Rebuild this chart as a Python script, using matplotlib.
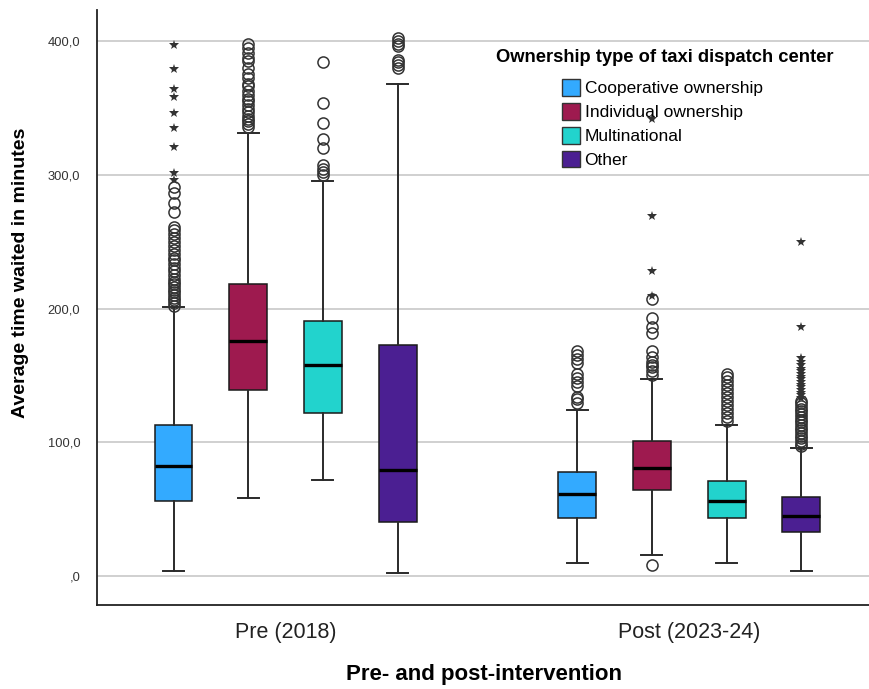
import matplotlib.pyplot as plt
from matplotlib.patches import Patch
from matplotlib.ticker import FuncFormatter

plt.rcParams['font.family'] = ['Liberation Sans', 'DejaVu Sans']

groups = ["Pre (2018)", "Post (2023-24)"]
types = ["Cooperative ownership", "Individual ownership", "Multinational", "Other"]
colors = ["#33aaff", "#9e1a4f", "#22d3cd", "#4b1f92"]

# box stats per group (Pre, Post), one value per ownership type
q1 = [[56, 139, 122, 40], [43, 64, 43, 33]]
med = [[82, 176, 158, 79], [61, 81, 56, 45]]
q3 = [[113, 218, 191, 173], [78, 101, 71, 59]]
wlo = [[4, 58, 72, 2], [10, 16, 10, 4]]
whi = [[201, 331, 295, 368], [124, 147, 113, 96]]

# outliers (circles) and extremes (stars)
circles = [
    [[202, 204, 206, 208, 210, 212, 214, 216, 218, 220, 222, 225, 228, 230, 233,
      236, 238, 241, 244, 247, 250, 253, 256, 259, 261, 272, 279, 286, 291],
     [336, 338, 340, 342, 344, 347, 349, 352, 355, 357, 360, 363, 366, 368, 372,
      375, 380, 385, 387, 391, 395, 398],
     [300, 302, 304, 307, 320, 327, 339, 354, 384],
     [380, 382, 384, 386, 396, 398, 400, 402]],
    [[129, 132, 134, 142, 145, 148, 151, 159, 162, 165, 168],
     [8, 150, 153, 156, 158, 160, 164, 168, 182, 186, 193, 207],
     [116, 119, 122, 125, 128, 131, 134, 137, 140, 143, 146, 149, 151],
     [97, 99, 101, 103, 105, 107, 109, 111, 113, 115, 117, 119, 121, 123, 125,
      127, 129, 131]],
]
stars = [
    [[397, 379, 364, 358, 346, 335, 321, 301, 296], [], [], []],
    [[], [209, 228, 269, 342], [],
     [133, 135, 137, 139, 141, 143, 145, 147, 149, 151, 153, 155, 158, 160, 163, 186, 250]],
]

offsets = [-0.2775, -0.0925, 0.0925, 0.2775]
box_w = 0.094
cap_w = 0.052

fig = plt.figure(figsize=(8.7, 6.89), dpi=100)
ax = fig.add_axes([0.1115, 0.1219, 0.8885, 0.8636])

ax.set_axisbelow(True)
ax.yaxis.grid(True, color="#c4c4c4", lw=1.1)

for g in range(len(groups)):
    for t in range(len(types)):
        x = g + offsets[t]
        stats = [dict(med=med[g][t], q1=q1[g][t], q3=q3[g][t],
                      whislo=wlo[g][t], whishi=whi[g][t], fliers=[])]
        ax.bxp(stats, positions=[x], widths=box_w, patch_artist=True,
               showfliers=False, capwidths=cap_w,
               boxprops=dict(facecolor=colors[t], edgecolor="#1a1a1a", lw=1.1),
               medianprops=dict(color="black", lw=2.4),
               whiskerprops=dict(color="#2a2a2a", lw=1.4),
               capprops=dict(color="#2a2a2a", lw=1.4))
        c = circles[g][t]
        ax.plot([x] * len(c), c, "o", ms=8, mfc="none", mec="#333333", mew=1.1)
        s = stars[g][t]
        ax.plot([x] * len(s), s, "*", ms=7.5, color="#333333", mew=0)

ax.set_xlim(-0.467, 1.4475)
ax.set_ylim(-21.7, 423.2)
ax.set_xticks(range(len(groups)))
ax.set_xticklabels(groups, fontsize=15.5, color="#222222")
ax.set_yticks([0, 100, 200, 300, 400])


def fmt(v, pos):
    s = f"{v:.1f}".replace(".", ",")
    return s[1:] if s.startswith("0") else s


ax.yaxis.set_major_formatter(FuncFormatter(fmt))
ax.tick_params(axis="y", length=0, labelsize=9.3, labelcolor="#333333", pad=12)
ax.tick_params(axis="x", length=0, pad=12)
for sp in ["top", "right"]:
    ax.spines[sp].set_visible(False)
for sp in ["left", "bottom"]:
    ax.spines[sp].set_color("#222222")
    ax.spines[sp].set_linewidth(1.3)

ax.set_ylabel("Average time waited in minutes", fontsize=14, fontweight="bold")
ax.yaxis.set_label_coords(-0.088, 0.558)
ax.set_xlabel("Pre- and post-intervention", fontsize=16, fontweight="bold", labelpad=15)

fig.text(0.7644, 0.917, "Ownership type of taxi dispatch center", ha="center", va="center",
         fontsize=13.2, fontweight="bold")
handles = [Patch(facecolor=c, edgecolor="#333333", lw=1) for c in colors]
ax.legend(handles, types, loc="upper left", bbox_to_anchor=(0.646, 0.885),
          bbox_transform=fig.transFigure, frameon=False, fontsize=12.5,
          handlelength=1.05, handleheight=1.1, handletextpad=0.25,
          labelspacing=0.38, borderpad=0, borderaxespad=0)

fig.savefig("out.png", dpi=100)
